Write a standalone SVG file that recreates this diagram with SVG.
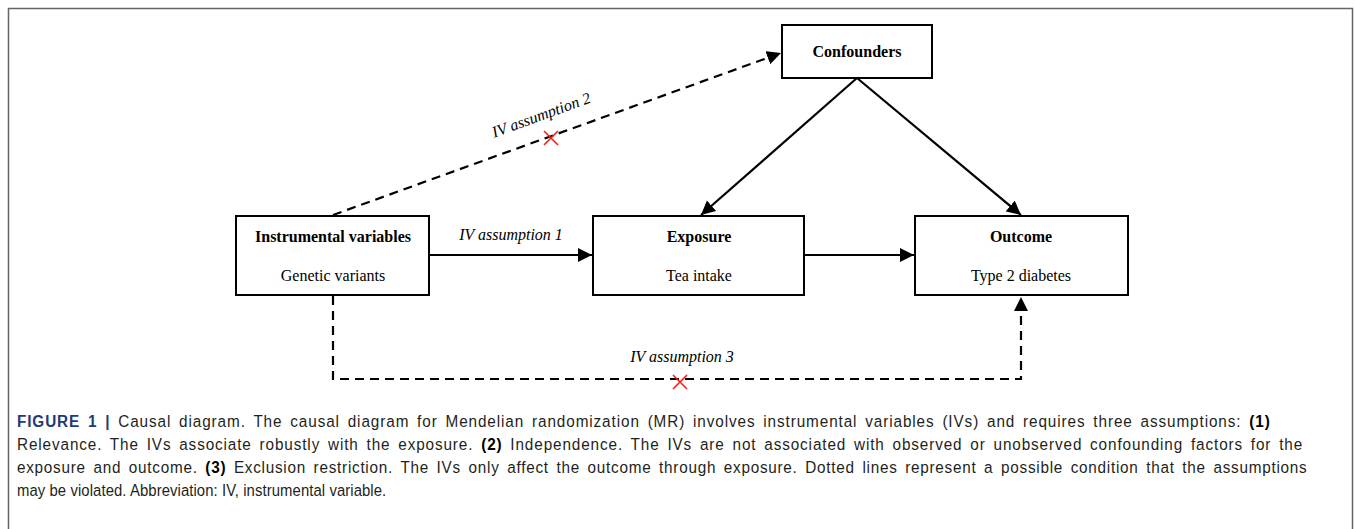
<svg xmlns="http://www.w3.org/2000/svg" width="1355" height="529" viewBox="0 0 1355 529">
<defs>
<marker id="ah" markerUnits="userSpaceOnUse" markerWidth="15" markerHeight="15" refX="14" refY="7.5" orient="auto">
<path d="M0,0.5 L14,7.5 L0,14.5 z" fill="#000"/>
</marker>
<style>
.box{fill:#fff;stroke:#000;stroke-width:2}
.t{font-family:"Liberation Serif","Times New Roman",serif;font-size:16px;fill:#000;text-anchor:middle}
.b{font-weight:bold}
.i{font-style:italic}
.ln{fill:none;stroke:#000;stroke-width:2.2}
.dash{stroke-dasharray:9,6}
.x{stroke:#ff1a1a;stroke-width:1.6;fill:none}
.cap{font-family:"Liberation Sans",Arial,sans-serif;font-size:17px;fill:#231f20}
.j{word-spacing:3px}
.cb{font-weight:bold;fill:#000}
</style>
</defs>
<rect x="8.5" y="8.5" width="1344" height="540" fill="#fff" stroke="#666" stroke-width="1.5"/>
<g id="connectors">
<path class="ln" d="M430,255 L592,255" marker-end="url(#ah)"/>
<path class="ln" d="M804,255 L914,255" marker-end="url(#ah)"/>
<path class="ln" d="M857,78 L701,215" marker-end="url(#ah)"/>
<path class="ln" d="M857,78 L1021,215" marker-end="url(#ah)"/>
<path class="ln dash" d="M333,215 L781,53" marker-end="url(#ah)"/>
<path class="ln dash" d="M333,296 L333,379 L1021,379 L1021,297" marker-end="url(#ah)"/>
<path class="x" d="M544,131 L558,145 M558,131 L544,145"/>
<path class="x" d="M673,375 L687,389 M687,375 L673,389"/>
<text class="t i" x="511" y="240">IV assumption 1</text>
<text class="t i" x="543" y="120" transform="rotate(-20 543 120)">IV assumption 2</text>
<text class="t i" x="682" y="362">IV assumption 3</text>
</g>
<g id="confounders">
<rect class="box" x="782" y="25" width="150" height="53"/>
<text class="t b" x="857" y="57">Confounders</text>
</g>
<g id="instrumental">
<rect class="box" x="236" y="216" width="193" height="79"/>
<text class="t b" x="333" y="242">Instrumental variables</text>
<text class="t" x="333" y="281">Genetic variants</text>
</g>
<g id="exposure">
<rect class="box" x="593" y="216" width="211" height="79"/>
<text class="t b" x="699" y="242">Exposure</text>
<text class="t" x="699" y="281">Tea intake</text>
</g>
<g id="outcome">
<rect class="box" x="915" y="216" width="213" height="79"/>
<text class="t b" x="1021" y="242">Outcome</text>
<text class="t" x="1021" y="281">Type 2 diabetes</text>
</g>
<g id="caption">
<g transform="translate(17,0) scale(0.9,1)">
<text class="cap j" x="0" y="427" textLength="1392" lengthAdjust="spacing"><tspan font-weight="bold" fill="#1f3b73">FIGURE 1 |</tspan> Causal diagram. The causal diagram for Mendelian randomization (MR) involves instrumental variables (IVs) and requires three assumptions: <tspan class="cb">(1)</tspan></text>
<text class="cap j" x="0" y="450" textLength="1428" lengthAdjust="spacing">Relevance. The IVs associate robustly with the exposure. <tspan class="cb">(2)</tspan> Independence. The IVs are not associated with observed or unobserved confounding factors for the</text>
<text class="cap j" x="0" y="473" textLength="1433" lengthAdjust="spacing">exposure and outcome. <tspan class="cb">(3)</tspan> Exclusion restriction. The IVs only affect the outcome through exposure. Dotted lines represent a possible condition that the assumptions</text>
</g>
<g transform="translate(17,0) scale(0.875,1)">
<text class="cap" x="0" y="496" textLength="422" lengthAdjust="spacing">may be violated. Abbreviation: IV, instrumental variable.</text>
</g>
</g>
</svg>
